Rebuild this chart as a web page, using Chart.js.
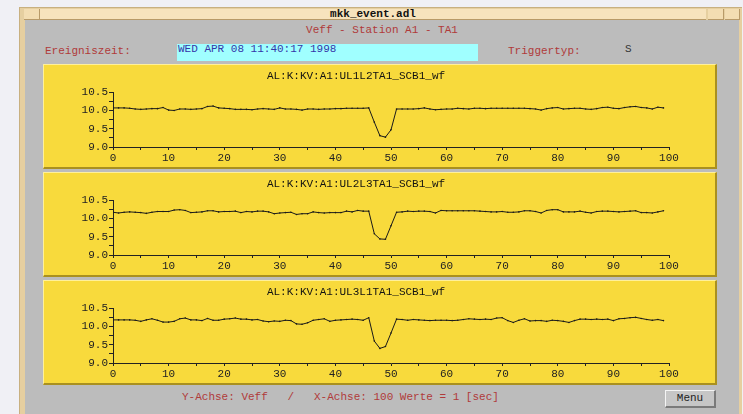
<!DOCTYPE html>
<html>
<head>
<meta charset="utf-8">
<script src="https://cdn.jsdelivr.net/npm/chart.js@4"></script>
<style>
  body { margin:0; width:743px; height:414px; overflow:hidden; background:#f0f0f5; position:relative;
         font-family:"Liberation Mono","DejaVu Sans Mono",monospace; font-size:11px; }
  .abs { position:absolute; white-space:pre; }
  #frame { left:19px; top:7px; width:722px; height:420px; background:#e6cfa0; border-left:1px solid #c8b080; border-top:1px solid #c8b080; }
  #bar { left:40px; top:9px; width:666px; height:10px; background:#f7e3bd; border-bottom:1px solid #b89a68; }
  .btn { top:9px; height:10px; background:#f3ddb2; border-bottom:1px solid #b89a68; border-right:1px solid #b89a68; }
  #grey { left:25px; top:20px; width:714px; height:400px; background:#bcbcbc; }
  .red { color:#b03a3a; }
  .panel { left:43px; width:671px; height:102px; background:#f8da3c;
           border-top:1px solid #fff09a; border-left:1px solid #fff09a;
           border-right:2px solid #a99020; border-bottom:2px solid #a99020; }
  canvas { position:absolute; left:43px; }
  #menu { left:665px; top:390px; width:48px; height:15px; background:#c6c6c6; text-align:center; line-height:15px;
          border-top:1px solid #f4f4f4; border-left:1px solid #f4f4f4; border-right:2px solid #7a7a7a; border-bottom:2px solid #7a7a7a; color:#222; }
</style>
</head>
<body>
<div id="frame" class="abs"></div>
<div id="bar" class="abs"></div>
<div class="abs btn" style="left:24px;width:15px;"></div>
<div class="abs btn" style="left:708px;width:15px;"></div>
<div class="abs btn" style="left:725px;width:14px;"></div>
<div class="abs" style="left:40px;width:666px;top:8px;text-align:center;font-weight:bold;color:#111;">mkk_event.adl</div>
<div id="grey" class="abs"></div>
<div class="abs red" style="left:25px;width:714px;top:24px;text-align:center;">Veff - Station A1 - TA1</div>
<div class="abs red" style="left:45px;top:45px;">Ereigniszeit:</div>
<div class="abs" style="left:177px;top:44px;width:301px;height:17px;background:#a0ffff;"></div>
<div class="abs" style="left:178px;top:43px;color:#3535a8;">WED APR 08 11:40:17 1998</div>
<div class="abs red" style="left:508px;top:45px;">Triggertyp:</div>
<div class="abs" style="left:625px;top:43px;color:#333;">S</div>

<div class="abs panel" style="top:64px;"></div>
<div class="abs panel" style="top:172px;"></div>
<div class="abs panel" style="top:280px;"></div>
<canvas id="c1" width="674" height="105" style="top:64px;"></canvas>
<canvas id="c2" width="674" height="105" style="top:172px;"></canvas>
<canvas id="c3" width="674" height="105" style="top:280px;"></canvas>

<div class="abs red" style="left:182px;top:391px;">Y-Achse: Veff   /   X-Achse: 100 Werte = 1 [sec]</div>
<div id="menu" class="abs">Menu</div>

<script>
// waveform channels, 100 samples each (x = sample index)
const titles = ['AL:K:KV:A1:UL1L2TA1_SCB1_wf', 'AL:K:KV:A1:UL2L3TA1_SCB1_wf', 'AL:K:KV:A1:UL3L1TA1_SCB1_wf'];

const ul1l2 = [10.07,10.07,10.07,10.06,10.04,10.03,10.04,10.05,10.05,10.08,
  10.01,10.00,10.04,10.04,10.03,10.04,10.05,10.11,10.12,10.07,
  10.06,10.05,10.03,10.03,10.03,10.02,10.04,10.05,10.04,10.03,
  10.07,10.04,10.04,10.03,10.01,10.04,10.04,10.03,10.04,10.04,
  10.05,10.05,10.06,10.06,10.06,10.06,10.07,9.68,9.31,9.27,
  9.47,10.04,10.04,10.04,10.04,10.05,10.07,10.04,10.02,10.03,
  10.04,10.04,10.06,10.05,10.04,10.06,10.06,10.05,10.06,10.06,
  10.06,10.06,10.06,10.06,10.06,10.05,10.04,10.01,10.05,10.07,
  10.08,10.04,10.05,10.06,10.06,10.04,10.03,10.05,10.08,10.09,
  10.06,10.05,10.08,10.10,10.11,10.08,10.07,10.04,10.09,10.07];

const ul2l3 = [10.17,10.15,10.17,10.18,10.17,10.16,10.14,10.17,10.19,10.19,
  10.19,10.23,10.24,10.22,10.16,10.17,10.18,10.21,10.21,10.18,
  10.19,10.19,10.20,10.16,10.19,10.18,10.20,10.20,10.18,10.13,
  10.15,10.16,10.17,10.11,10.13,10.13,10.18,10.16,10.15,10.16,
  10.16,10.16,10.20,10.18,10.22,10.20,10.20,9.58,9.44,9.43,
  9.80,10.17,10.18,10.20,10.19,10.20,10.20,10.19,10.15,10.22,
  10.21,10.21,10.21,10.21,10.21,10.21,10.20,10.19,10.18,10.18,
  10.19,10.17,10.17,10.18,10.21,10.21,10.19,10.15,10.22,10.24,
  10.24,10.18,10.18,10.18,10.20,10.17,10.15,10.19,10.20,10.20,
  10.19,10.18,10.19,10.20,10.21,10.16,10.16,10.15,10.18,10.21];

const ul3l1 = [10.18,10.18,10.18,10.18,10.17,10.14,10.18,10.21,10.17,10.12,
  10.12,10.14,10.21,10.23,10.18,10.18,10.16,10.22,10.17,10.17,
  10.20,10.21,10.23,10.20,10.20,10.18,10.19,10.15,10.13,10.15,
  10.14,10.17,10.16,10.07,10.06,10.10,10.17,10.19,10.21,10.14,
  10.17,10.18,10.19,10.20,10.19,10.17,10.24,9.60,9.40,9.45,
  9.82,10.20,10.19,10.17,10.19,10.18,10.17,10.16,10.17,10.17,
  10.17,10.16,10.17,10.19,10.21,10.20,10.19,10.20,10.19,10.23,
  10.24,10.16,10.11,10.17,10.21,10.15,10.16,10.16,10.14,10.17,
  10.16,10.14,10.11,10.16,10.20,10.20,10.19,10.20,10.19,10.20,
  10.16,10.21,10.22,10.24,10.25,10.22,10.19,10.17,10.19,10.16];

const xMin = 0, xMax = 100, xStep = 5, xLabelEvery = 10;
const yMin = 9.0, yMax = 10.5, yStep = 0.25, yLabelEvery = 0.5;

const font = { family: '"Liberation Mono", "DejaVu Sans Mono", monospace', size: 11, weight: 'normal' };

function makeChart(id, title, values) {
  const ctx = document.getElementById(id).getContext('2d');
  return new Chart(ctx, {
    type: 'line',
    data: {
      datasets: [{
        data: values.map((v, i) => ({ x: i, y: v })),
        borderColor: '#1a1a1a',
        borderWidth: 1,
        pointRadius: 0.8,
        pointBackgroundColor: '#1a1a1a',
        pointBorderWidth: 0,
        tension: 0,
        fill: false
      }]
    },
    options: {
      responsive: false,
      animation: false,
      devicePixelRatio: 1,
      layout: { padding: { left: 0, right: 48, top: 0, bottom: 0 } },
      plugins: {
        legend: { display: false },
        tooltip: { enabled: false },
        title: { display: true, text: title, color: '#111', font: font, padding: { top: 5, bottom: 10 } }
      },
      scales: {
        x: {
          type: 'linear', min: xMin, max: xMax,
          afterFit: s => { s.height = 22; },
          border: { display: true, color: '#222', width: 1 },
          grid: { drawOnChartArea: false, drawTicks: true, tickLength: 3, color: '#222' },
          ticks: {
            stepSize: xStep, autoSkip: false, maxRotation: 0, padding: 1, color: '#222', font: font,
            callback: v => (v % xLabelEvery === 0 ? String(v) : '')
          }
        },
        y: {
          min: yMin, max: yMax,
          afterFit: s => { s.width = 70; },
          border: { display: true, color: '#222', width: 1 },
          grid: { drawOnChartArea: false, drawTicks: true, tickLength: 4, color: '#222' },
          ticks: {
            stepSize: yStep, autoSkip: false, padding: 1, color: '#222', font: font,
            callback: v => (Math.abs(v / yLabelEvery - Math.round(v / yLabelEvery)) < 1e-6 ? v.toFixed(1) : '')
          }
        }
      }
    }
  });
}

makeChart('c1', titles[0], ul1l2);
makeChart('c2', titles[1], ul2l3);
makeChart('c3', titles[2], ul3l1);
</script>
</body>
</html>
